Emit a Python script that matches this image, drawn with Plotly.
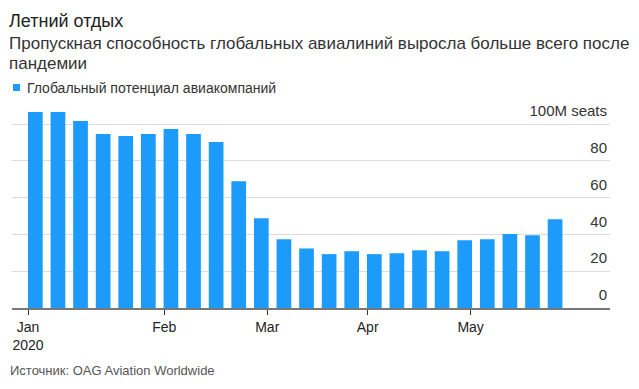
import plotly.graph_objects as go

# ---- data ----
weeks = ["Нед %d" % (i + 1) for i in range(24)]
capacity = [106.6, 106.6, 101.7, 94.7, 93.6, 94.7, 97.4, 94.7, 90.3, 69.0,
            48.8, 37.4, 32.4, 29.3, 30.9, 29.3, 29.8, 31.4, 30.9, 36.9,
            37.4, 40.2, 39.6, 48.3]
month_labels = ["Jan<br>2020", "Feb", "Mar", "Apr", "May"]
month_pos = [-0.325, 5.706, 10.263, 14.706, 19.263]
y_ticks = [0, 20, 40, 60, 80, 100]
y_labels = ["0", "20", "40", "60", "80", "100M seats"]

title = "Летний отдых"
subtitle1 = "Пропускная способность глобальных авиалиний выросла больше всего после"
subtitle2 = "пандемии"
series_name = "Глобальный потенциал авиакомпаний"
source = "Источник: OAG Aviation Worldwide"

BLUE = "#1d9bfb"
FONT = "Liberation Sans, Arial, sans-serif"

OFF = 8  # page body margin
W, H = 639 - 2 * OFF, 389 - 2 * OFF
# plot area in screen pixels: x 12..610, y 95..308
L = 12 - OFF
R = W - (610 - OFF)
T = 95 - OFF
B = H - (308 - OFF)
PW, PH = W - L - R, H - T - B


def px(xs):
    return (xs - OFF - L) / PW


def py(ys):
    return (H - B - (ys - OFF)) / PH


fig = go.Figure()
fig.add_trace(go.Bar(
    x=list(range(len(capacity))), y=capacity, customdata=weeks,
    marker=dict(color=BLUE, line=dict(width=0)),
    name=series_name, showlegend=False,
    hovertemplate="%{customdata}: %{y}<extra></extra>",
))


def ann(text, xs, ys, size, color):
    return dict(text=text, x=px(xs), y=py(ys), xref="paper", yref="paper",
                xanchor="left", yanchor="middle", showarrow=False,
                font=dict(size=size, color=color))


fig.update_layout(
    width=W, height=H,
    margin=dict(l=L, r=R, t=T, b=B, autoexpand=False),
    paper_bgcolor="white", plot_bgcolor="white",
    font=dict(family=FONT, color="#333", size=14),
    bargap=0.35,
    xaxis=dict(
        range=[-1.033, 25.43], tickmode="array", tickvals=month_pos,
        ticktext=month_labels, ticks="outside", ticklen=5, tickwidth=1,
        tickcolor="#333", showgrid=False, zeroline=False, automargin=False,
        showline=True, linecolor="#777", linewidth=2,
        tickfont=dict(size=14, color="#222"),
    ),
    yaxis=dict(
        range=[0, 115.9], side="right", tickmode="array",
        tickvals=y_ticks, ticktext=y_labels, ticklabelposition="inside",
        ticklabelshift=-13, ticklabelstandoff=0, ticks="", automargin=False,
        showgrid=True, gridcolor="#dcdcdc", gridwidth=1, zeroline=False,
        tickfont=dict(size=15, color="#333"),
    ),
    annotations=[
        ann(title, 7, 21, 18, "#222"),
        ann(subtitle1, 7, 43, 17, "#333"),
        ann(subtitle2, 7, 64, 17, "#333"),
        ann(series_name, 25, 87.5, 14, "#333"),
        ann(source, 8, 370, 13, "#555"),
    ],
    shapes=[
        dict(type="rect", xref="paper", yref="paper",
             xsizemode="pixel", ysizemode="pixel",
             xanchor=px(13), yanchor=py(87.5),
             x0=0, x1=7, y0=-3.5, y1=3.5,
             fillcolor=BLUE, line=dict(width=0)),
    ],
)

fig.write_html("out.html")
